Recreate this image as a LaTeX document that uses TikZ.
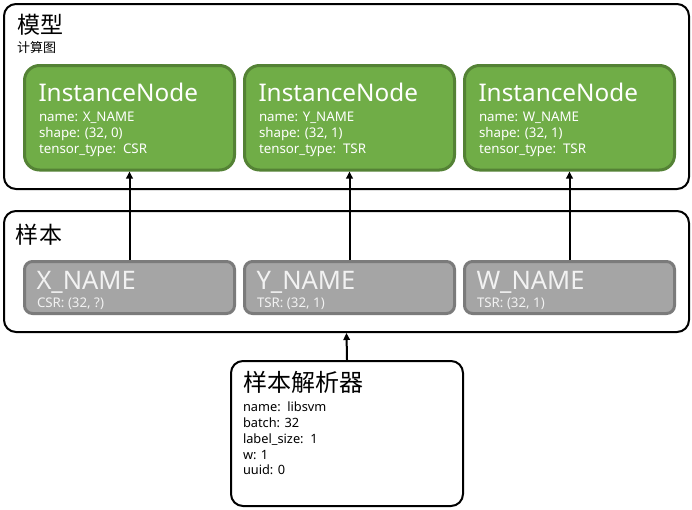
\documentclass[tikz,border=0pt]{standalone}
\usepackage{fontspec}
\setmainfont{Noto Sans}
\newfontfamily\cjk{Noto Sans CJK SC}
\usetikzlibrary{arrows.meta}
\definecolor{gfill}{HTML}{70AD47}
\definecolor{gline}{HTML}{548235}
\definecolor{sfill}{HTML}{A5A5A5}
\definecolor{sline}{HTML}{7B7B7B}
\tikzset{
  x=1pt, y=-1pt,
  frame/.style={draw=black, line width=2pt, rounded corners=12pt, fill=white},
  inst/.style={draw=gline, fill=gfill, line width=3pt, rounded corners=15pt,
    minimum width=210pt, minimum height=104.5pt, inner sep=0pt},
  slot/.style={draw=sline, fill=sfill, line width=3pt, rounded corners=8pt,
    minimum width=210pt, minimum height=52pt, inner sep=0pt},
  txt/.style={anchor=base west, inner sep=0pt, outer sep=0pt},
  big/.style={txt, font=\fontsize{24.3}{24.3}\selectfont},
  small/.style={txt, font=\fontsize{13.3}{13.3}\selectfont},
  title/.style={txt, font=\cjk\fontsize{23}{23}\selectfont},
  conn/.style={draw=black, line width=2pt, -{Triangle[length=7pt,width=6.5pt]}},
}
\begin{document}
\begin{tikzpicture}
\useasboundingbox (0,0) rectangle (692,509);
% frames
\node[frame, minimum width=685pt, minimum height=185pt, inner sep=0pt] (model) at (346.5,96.5) {};
\node[frame, minimum width=685pt, minimum height=121pt, inner sep=0pt] (sample) at (346.5,271.5) {};
\node[frame, minimum width=232pt, minimum height=145pt, inner sep=0pt] (parser) at (347,433.5) {};
% titles
\node[title] (tmodel) at (17,33) {模型};
\node[txt, font=\cjk\fontsize{13}{13}\selectfont] (tgraph) at (17,52) {计算图};
\node[title] (tsample) at (16,243) {样本};
\node[title, font=\cjk\fontsize{24}{24}\selectfont] (tparser) at (243,391) {样本解析器};
% instance nodes
\node[inst] (m1) at (129.5,117.75) {};
\node[inst] (m2) at (349.5,117.75) {};
\node[inst] (m3) at (569.5,117.75) {};
\begin{scope}[every node/.append style={text=white}]
\node[big] (m1a) at (38.5,101.5) {InstanceNode};
\node[small] (m1b) at (39,121.5) {name: X\_NAME};
\node[small] (m1c) at (39,137.5) {shape: (32, 0)};
\node[small] (m1d) at (39,153.5) {tensor\_type:\ \ CSR};
\node[big] (m2a) at (258.5,101.5) {InstanceNode};
\node[small] (m2b) at (259,121.5) {name: Y\_NAME};
\node[small] (m2c) at (259,137.5) {shape: (32, 1)};
\node[small] (m2d) at (259,153.5) {tensor\_type:\ \ TSR};
\node[big] (m3a) at (478.5,101.5) {InstanceNode};
\node[small] (m3b) at (479,121.5) {name: W\_NAME};
\node[small] (m3c) at (479,137.5) {shape: (32, 1)};
\node[small] (m3d) at (479,153.5) {tensor\_type:\ \ TSR};
\end{scope}
% sample slots
\node[slot] (s1) at (129.5,287.5) {};
\node[slot] (s2) at (349.5,287.5) {};
\node[slot] (s3) at (569.5,287.5) {};
\begin{scope}[every node/.append style={text=white!95!black}]
\node[txt, font=\fontsize{25.5}{25.5}\selectfont] (s1a) at (36.5,289) {X\_NAME};
\node[txt, font=\fontsize{13.3}{13.3}\selectfont] (s1b) at (37,307) {CSR: (32, ?)};
\node[txt, font=\fontsize{25.5}{25.5}\selectfont] (s2a) at (256.5,289) {Y\_NAME};
\node[txt, font=\fontsize{13.3}{13.3}\selectfont] (s2b) at (257,307) {TSR: (32, 1)};
\node[txt, font=\fontsize{25.5}{25.5}\selectfont] (s3a) at (476.5,289) {W\_NAME};
\node[txt, font=\fontsize{13.3}{13.3}\selectfont] (s3b) at (477,307) {TSR: (32, 1)};
\end{scope}
% parser text
\begin{scope}[every node/.append style={txt, font=\fontsize{12.8}{12.8}\selectfont}]
\node (p1) at (243,411) {name:\ \ libsvm};
\node (p2) at (243,427) {batch: 32};
\node (p3) at (243,443) {label\_size:\ \ 1};
\node (p4) at (243,459) {w: 1};
\node (p5) at (243,474) {uuid: 0};
\end{scope}
% connectors
\draw[conn] (s1.north) -- (m1.south);
\draw[conn] (s2.north) -- (m2.south);
\draw[conn] (s3.north) -- (m3.south);
\draw[conn] (parser.north) -- (sample.south);
\end{tikzpicture}
\end{document}
